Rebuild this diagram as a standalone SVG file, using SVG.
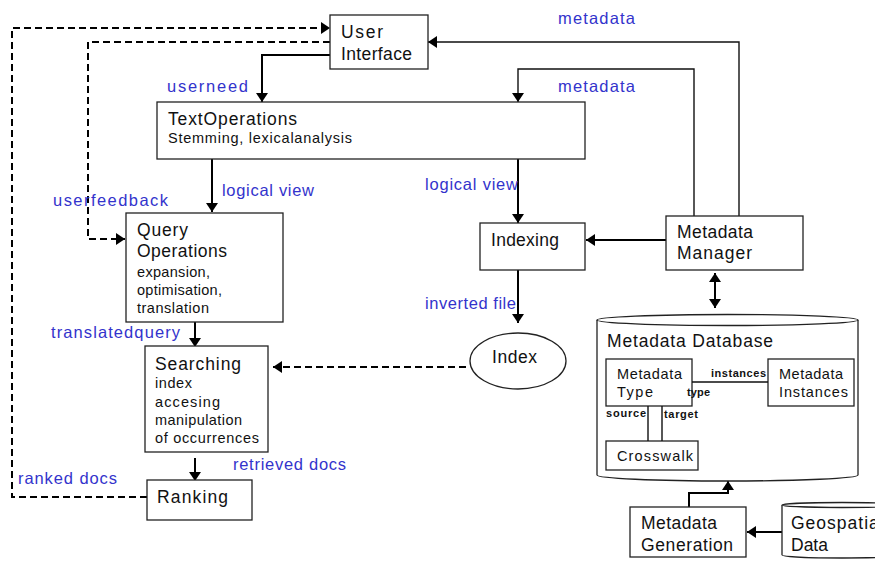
<svg xmlns="http://www.w3.org/2000/svg" width="875" height="561" viewBox="0 0 875 561">
  <defs>
    <marker id="arr" markerUnits="userSpaceOnUse" markerWidth="12" markerHeight="12" refX="9" refY="6" orient="auto-start-reverse">
      <path d="M0,0 L9,6 L0,12 z" fill="#000"/>
    </marker>
    <style>
      .box { fill: #fff; stroke: #222; stroke-width: 1.3; }
      .ln { fill: none; stroke: #000; stroke-width: 2; }
      .thin { fill: none; stroke: #111; stroke-width: 1.4; }
      .dash { fill: none; stroke: #000; stroke-width: 2; stroke-dasharray: 7 4; }
      text { font-family: "Liberation Sans", Arial, sans-serif; fill: #111; }
      .t { font-size: 17.5px; }
      .s { font-size: 14.5px; }
      .b { font-size: 11px; font-weight: bold; }
      .lbl { font-size: 16.5px; fill: #3333cc; }
    </style>
  </defs>
  <rect width="875" height="561" fill="#fff"/>

  <!-- connectors -->
  <g id="connectors">
    <path class="dash" d="M147,497 H12 V28 H330" marker-end="url(#arr)"/>
    <path class="dash" d="M330,42 H88 V239 H125" marker-end="url(#arr)"/>
    <path class="ln" d="M330,55 H262 V102" marker-end="url(#arr)"/>
    <path class="thin" d="M739,216 V42 H428" marker-end="url(#arr)"/>
    <path class="thin" d="M694,216 V69 H518 V102" marker-end="url(#arr)"/>
    <path class="ln" d="M212,159 V212" marker-end="url(#arr)"/>
    <path class="ln" d="M518,159 V223" marker-end="url(#arr)"/>
    <path class="ln" d="M666,240 H586" marker-end="url(#arr)"/>
    <path class="ln" d="M518,270 V323" marker-end="url(#arr)"/>
    <path class="dash" d="M466,367 H273" marker-end="url(#arr)"/>
    <path class="ln" d="M195,322 V347" marker-end="url(#arr)"/>
    <path class="ln" d="M195,458 V481" marker-end="url(#arr)"/>
    <path class="ln" d="M715,273 V308" marker-start="url(#arr)" marker-end="url(#arr)"/>
    <path class="ln" d="M689,507 V493 H728 V481" marker-end="url(#arr)"/>
    <path class="ln" d="M782,532 H747" marker-end="url(#arr)"/>
  </g>

  <!-- connector labels -->
  <g id="labels">
    <text class="lbl" x="558" y="24" textLength="77" lengthAdjust="spacing">metadata</text>
    <text class="lbl" x="558" y="92" textLength="77" lengthAdjust="spacing">metadata</text>
    <text class="lbl" x="167" y="92" textLength="81" lengthAdjust="spacing">userneed</text>
    <text class="lbl" x="222" y="196" textLength="92" lengthAdjust="spacing">logical view</text>
    <text class="lbl" x="425" y="190" textLength="93" lengthAdjust="spacing">logical view</text>
    <text class="lbl" x="53" y="206" textLength="115" lengthAdjust="spacing">userfeedback</text>
    <text class="lbl" x="425" y="309" textLength="91" lengthAdjust="spacing">inverted file</text>
    <text class="lbl" x="51" y="338" textLength="129" lengthAdjust="spacing">translatedquery</text>
    <text class="lbl" x="233" y="470" textLength="113" lengthAdjust="spacing">retrieved docs</text>
    <text class="lbl" x="18" y="484" textLength="99" lengthAdjust="spacing">ranked docs</text>
  </g>

  <g id="user-interface">
    <rect class="box" x="330" y="15" width="98" height="54"/>
    <text class="t" x="341" y="38" textLength="42" lengthAdjust="spacing">User</text>
    <text class="t" x="341" y="60" textLength="71" lengthAdjust="spacing">Interface</text>
  </g>

  <g id="text-operations">
    <rect class="box" x="157" y="102" width="428" height="57"/>
    <text class="t" x="168" y="125" textLength="129" lengthAdjust="spacing">TextOperations</text>
    <text class="s" x="168" y="143" textLength="184" lengthAdjust="spacing">Stemming, lexicalanalysis</text>
  </g>

  <g id="query-operations">
    <rect class="box" x="126" y="213" width="157" height="109"/>
    <text class="t" x="137" y="236" textLength="51" lengthAdjust="spacing">Query</text>
    <text class="t" x="137" y="257" textLength="90" lengthAdjust="spacing">Operations</text>
    <text class="s" x="137" y="277" textLength="73" lengthAdjust="spacing">expansion,</text>
    <text class="s" x="137" y="295" textLength="85" lengthAdjust="spacing">optimisation,</text>
    <text class="s" x="137" y="313" textLength="72" lengthAdjust="spacing">translation</text>
  </g>

  <g id="searching">
    <rect class="box" x="145" y="346" width="123" height="106"/>
    <text class="t" x="155" y="370" textLength="86" lengthAdjust="spacing">Searching</text>
    <text class="s" x="155" y="388" textLength="37" lengthAdjust="spacing">index</text>
    <text class="s" x="155" y="407" textLength="65" lengthAdjust="spacing">accesing</text>
    <text class="s" x="155" y="425" textLength="87" lengthAdjust="spacing">manipulation</text>
    <text class="s" x="155" y="443" textLength="104" lengthAdjust="spacing">of occurrences</text>
  </g>

  <g id="ranking">
    <rect class="box" x="147" y="480" width="105" height="40"/>
    <text class="t" x="157" y="503" textLength="71" lengthAdjust="spacing">Ranking</text>
  </g>

  <g id="indexing">
    <rect class="box" x="480" y="223" width="105" height="47"/>
    <text class="t" x="491" y="246" textLength="68" lengthAdjust="spacing">Indexing</text>
  </g>

  <g id="metadata-manager">
    <rect class="box" x="666" y="216" width="137" height="54"/>
    <text class="t" x="677" y="238" textLength="76" lengthAdjust="spacing">Metadata</text>
    <text class="t" x="677" y="259" textLength="75" lengthAdjust="spacing">Manager</text>
  </g>

  <g id="index">
    <ellipse class="box" cx="518" cy="361" rx="48" ry="28"/>
    <text class="t" x="492" y="363" textLength="45" lengthAdjust="spacing">Index</text>
  </g>

  <g id="metadata-database">
    <path class="box" d="M597,320 V475 A130.5,6 0 0 0 858,475 V320"/>
    <ellipse class="box" cx="727.5" cy="320" rx="130.5" ry="5.5"/>
    <text class="t" x="607" y="347" textLength="166" lengthAdjust="spacing">Metadata Database</text>
    <rect class="box" x="606" y="359" width="86" height="47"/>
    <text class="s" x="617" y="379" textLength="65" lengthAdjust="spacing">Metadata</text>
    <text class="s" x="617" y="397" textLength="36" lengthAdjust="spacing">Type</text>
    <rect class="box" x="768" y="359" width="86" height="47"/>
    <text class="s" x="779" y="379" textLength="64" lengthAdjust="spacing">Metadata</text>
    <text class="s" x="779" y="397" textLength="69" lengthAdjust="spacing">Instances</text>
    <rect class="box" x="606" y="441" width="92" height="29"/>
    <text class="s" x="617" y="461" textLength="76" lengthAdjust="spacing">Crosswalk</text>
    <path class="thin" d="M692,382 H768 M648,406 V441 M662,406 V441"/>
    <text class="b" x="711" y="377" textLength="55" lengthAdjust="spacing">instances</text>
    <text class="b" x="687" y="396" textLength="23" lengthAdjust="spacing">type</text>
    <text class="b" x="606" y="417" textLength="40" lengthAdjust="spacing">source</text>
    <text class="b" x="664" y="418" textLength="34" lengthAdjust="spacing">target</text>
  </g>

  <g id="metadata-generation">
    <rect class="box" x="630" y="507" width="116" height="50"/>
    <text class="t" x="641" y="529" textLength="76" lengthAdjust="spacing">Metadata</text>
    <text class="t" x="641" y="551" textLength="92" lengthAdjust="spacing">Generation</text>
  </g>

  <g id="geospatial-data">
    <path class="box" d="M782,505 V555 A60,3 0 0 0 902,555 V505"/>
    <ellipse class="box" cx="842" cy="505" rx="60" ry="2.5"/>
    <text class="t" x="791" y="529" letter-spacing="1">Geospatial</text>
    <text class="t" x="791" y="551">Data</text>
  </g>
</svg>
